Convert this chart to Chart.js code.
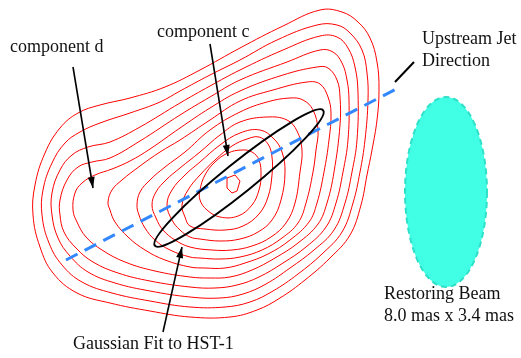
<!DOCTYPE html>
<html>
<head>
<meta charset="utf-8">
<script src="https://cdn.jsdelivr.net/npm/chart.js@4"></script>
<style>
  html, body { margin: 0; padding: 0; background: #fff; }
  #wrap { width: 521px; height: 358px; position: relative; }
</style>
</head>
<body>
<div id="wrap"><canvas id="chart"></canvas></div>
<script>
const contour1 = [[33,215],[35,185],[45,153],[60,128],[78,113],[100,105],[130,98],[165,87],[200,70],[240,48],[283,26],[320,10],[342,12],[358,22],[370,38],[377,62],[379,90],[377,120],[372,150],[367,175],[361,205],[350,235],[330,258],[305,280],[280,298],[257,310],[230,317],[190,317],[150,311],[110,303],[77,293],[53,273],[40,247]];
const contour2 = [[42,215],[43,190],[52,163],[65,143],[80,132],[100,123],[130,113],[160,102],[180,91],[210,75],[240,60],[277,40],[317,25],[337,25],[350,33],[362,50],[367,73],[368,100],[365,140],[360,172],[353,203],[342,232],[322,254],[298,274],[273,291],[250,302],[225,307],[190,307],[150,301],[112,293],[82,282],[62,265],[49,243]];
const contour3 = [[52,215],[52,193],[60,170],[72,155],[88,147],[110,142],[140,127],[180,103],[210,86],[240,70],[283,50],[320,36],[337,37],[348,48],[355,67],[358,93],[357,140],[352,172],[345,203],[334,230],[314,250],[290,268],[266,284],[243,294],[220,298],[190,297],[150,291],[115,283],[88,272],[70,256],[58,238]];
const contour4 = [[60,215],[60,200],[67,180],[78,167],[92,162],[110,158],[140,141],[180,115],[210,97],[240,80],[287,62],[320,50],[333,52],[342,63],[347,80],[349,100],[348,140],[343,172],[336,203],[326,227],[306,247],[283,263],[259,277],[237,285],[215,288],[190,287],[150,281],[118,273],[93,262],[76,248],[64,232]];
const contour5 = [[73,210],[75,193],[82,183],[95,175],[112,169],[130,161],[150,149],[180,128],[210,108],[240,91],[283,75],[317,67],[328,68],[337,80],[340,97],[340,125],[334,172],[327,203],[318,224],[298,243],[275,258],[252,270],[230,277],[210,278],[190,277],[155,271],[125,262],[102,250],[86,237],[77,222]];
const contour6 = [[108,202],[112,190],[122,180],[140,166],[160,152],[180,140],[210,120],[240,101],[273,90],[307,82],[320,84],[328,97],[331,113],[329,140],[324,172],[317,203],[309,222],[290,240],[268,254],[245,263],[225,268],[205,268],[190,267],[165,260],[145,250],[128,237],[115,222],[110,210]];
const contour7 = [[137,205],[140,192],[150,180],[165,167],[185,152],[210,130],[240,112],[267,102],[290,98],[303,100],[313,110],[318,130],[316,150],[313,172],[306,203],[298,223],[282,238],[262,250],[240,257],[220,259],[200,258],[190,257],[170,250],[155,240],[145,228],[139,215]];
const contour8 = [[152,205],[156,192],[166,180],[180,168],[200,152],[220,135],[240,122],[267,117],[287,120],[297,131],[302,150],[300,172],[295,203],[286,223],[271,237],[252,246],[232,250],[212,250],[190,247],[175,240],[163,230],[156,218]];
const contour9 = [[167,205],[172,190],[185,175],[200,162],[220,145],[240,133],[260,130],[274,139],[282,152],[285,172],[281,200],[272,220],[258,232],[240,239],[220,241],[200,239],[190,237],[180,230],[172,220]];
const contour10 = [[182,205],[188,190],[200,175],[215,160],[232,146],[247,139],[259,137],[268,144],[272,157],[272,175],[268,197],[259,214],[243,226],[225,230],[205,229],[190,226],[185,217]];
const contour11 = [[200,190],[205,175],[215,162],[228,153],[242,150],[252,152],[259,160],[261,175],[259,190],[252,205],[238,216],[220,217],[207,210],[200,200]];
const contour12 = [[227,178],[235,175],[240,181],[237,191],[232,193],[227,188]];
const contours = [contour1, contour2, contour3, contour4, contour5, contour6,
                  contour7, contour8, contour9, contour10, contour11, contour12];

// upstream jet axis (dashed) and annotation arrows: [from, to]
const jetAxis = [[66,260],[400,87]];
const arrowD = [[73,67],[93,188]];
const arrowC = [[210,44],[228,156]];
const arrowFit = [[163,332],[182,247]];
const jetLeader = [[395,82],[414,62]];

// ellipses: centre x, centre y, semi-major, semi-minor, angle (deg)
const gaussFit = [239, 178, 108, 15, -38.8];
const beam = [446, 192, 41, 95, 0];

const labels = ['component d', 'component c', 'Upstream Jet', 'Direction',
                'Restoring Beam', '8.0 mas x 3.4 mas', 'Gaussian Fit to HST-1'];

const pts = arr => arr.map(([x, y]) => ({ x, y }));

function lineSet(arr, color, width, dash) {
    return {
        data: pts(arr),
        showLine: true,
        borderColor: color,
        borderWidth: width,
        borderDash: dash || [],
        pointRadius: 0,
        fill: false
    };
}

const datasets = [
    lineSet(arrowD, '#000', 1.6),
    lineSet(arrowC, '#000', 1.6),
    lineSet(arrowFit, '#000', 1.6),
    lineSet(jetLeader, '#000', 2),
    lineSet(jetAxis, '#3388ff', 3, [13, 8])
];

// closed contours: pad with the neighbouring points so the spline closes smoothly,
// and hide the two padding segments
contours.forEach((c, i) => {
    const n = c.length;
    const ds = lineSet([c[n - 1]].concat(c, [c[0], c[1]]), '#ff0000', 1);
    ds.tension = i === contours.length - 1 ? 0 : 0.4;
    ds.segment = {
        borderColor: s => (s.p0DataIndex === 0 || s.p0DataIndex === n + 1) ? 'rgba(0,0,0,0)' : undefined
    };
    datasets.push(ds);
});

// beam under everything; fit ellipse, arrowheads and texts on top
const extras = {
    id: 'extras',
    beforeDatasetsDraw(chart) {
        const ctx = chart.ctx;
        const sx = chart.scales.x, sy = chart.scales.y;
        ctx.save();
        ctx.beginPath();
        ctx.ellipse(sx.getPixelForValue(beam[0]), sy.getPixelForValue(beam[1]),
            beam[2], beam[3], beam[4] * Math.PI / 180, 0, 2 * Math.PI);
        ctx.fillStyle = '#40ffe4';
        ctx.fill();
        ctx.setLineDash([6, 4]);
        ctx.lineWidth = 2;
        ctx.strokeStyle = '#2ee0c8';
        ctx.stroke();
        ctx.restore();
    },
    afterDatasetsDraw(chart) {
        const ctx = chart.ctx;
        const sx = chart.scales.x, sy = chart.scales.y;
        ctx.save();
        // gaussian fit ellipse
        ctx.beginPath();
        ctx.ellipse(sx.getPixelForValue(gaussFit[0]), sy.getPixelForValue(gaussFit[1]),
            gaussFit[2], gaussFit[3], gaussFit[4] * Math.PI / 180, 0, 2 * Math.PI);
        ctx.lineWidth = 2;
        ctx.strokeStyle = '#000';
        ctx.stroke();

        // arrowheads
        [arrowD, arrowC, arrowFit].forEach(a => {
            const x0 = sx.getPixelForValue(a[0][0]), y0 = sy.getPixelForValue(a[0][1]);
            const x1 = sx.getPixelForValue(a[1][0]), y1 = sy.getPixelForValue(a[1][1]);
            const ang = Math.atan2(y1 - y0, x1 - x0);
            ctx.beginPath();
            ctx.moveTo(x1, y1);
            ctx.lineTo(x1 - 11 * Math.cos(ang) + 3.5 * Math.sin(ang), y1 - 11 * Math.sin(ang) - 3.5 * Math.cos(ang));
            ctx.lineTo(x1 - 11 * Math.cos(ang) - 3.5 * Math.sin(ang), y1 - 11 * Math.sin(ang) + 3.5 * Math.cos(ang));
            ctx.closePath();
            ctx.fillStyle = '#000';
            ctx.fill();
        });

        // texts
        ctx.font = '18px "Liberation Serif", "Times New Roman", serif';
        ctx.fillStyle = '#111';
        ctx.textAlign = 'left';
        ctx.textBaseline = 'alphabetic';
        const spots = [[10, 52], [157, 37], [422, 44], [422, 66], [384, 299], [384, 321], [73, 349]];
        labels.forEach((t, i) => ctx.fillText(t, spots[i][0], spots[i][1]));
        ctx.restore();
    }
};

new Chart(document.getElementById('chart'), {
    type: 'scatter',
    data: { datasets },
    options: {
        responsive: true,
        maintainAspectRatio: false,
        animation: false,
        layout: { padding: 0 },
        plugins: { legend: { display: false }, tooltip: { enabled: false } },
        scales: {
            x: { type: 'linear', min: 0, max: 521, display: false },
            y: { type: 'linear', min: 0, max: 358, reverse: true, display: false }
        }
    },
    plugins: [extras]
});
</script>
</body>
</html>
